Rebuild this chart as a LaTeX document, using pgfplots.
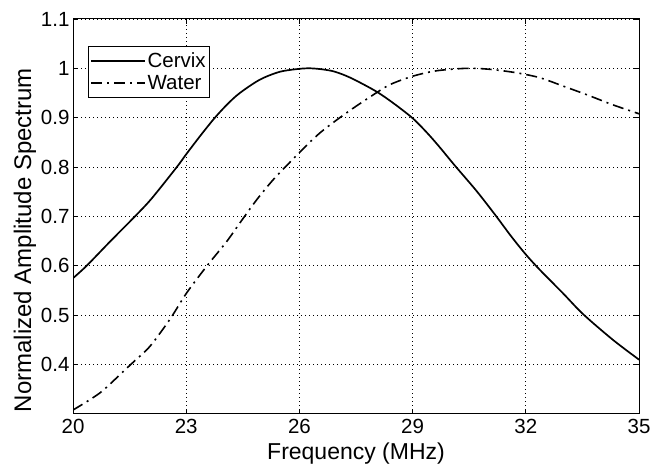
\documentclass[border=0pt]{standalone}
\usepackage{fontspec}
\setmainfont{Liberation Sans}
\usepackage{pgfplots}
\pgfplotsset{compat=1.18}
\begin{document}
\begin{tikzpicture}
\begin{axis}[
  scale only axis,
  width=566pt, height=395pt,
  xmin=20, xmax=35, ymin=0.3, ymax=1.1,
  xtick={20,23,26,29,32,35},
  ytick={0.4,0.5,0.6,0.7,0.8,0.9,1,1.1},
  yticklabels={0.4,0.5,0.6,0.7,0.8,0.9,1,1.1},
  xticklabels={20,23,26,29,32,35},
  tick align=inside,
  major tick length=5pt,
  tick style={black, line width=0.8pt},
  axis line style={line width=1pt},
  grid=major,
  grid style={black, line width=0.9pt, dash pattern=on 0.9pt off 3.1pt},
  ticklabel style={font=\fontsize{20.5}{22}\selectfont},
  xticklabel style={yshift=-2pt},
  xlabel={Frequency (MHz)},
  ylabel={Normalized Amplitude Spectrum},
  xlabel style={font=\fontsize{23}{25}\selectfont, at={(rel axis cs:0.5,-0.1165)}, anchor=base},
  ylabel style={font=\fontsize{24}{26}\selectfont, at={(rel axis cs:-0.0848,0.44)}, anchor=center},
  legend cell align=left,
  legend style={at={(0.0265,0.932)}, anchor=north west, draw=black, line width=0.8pt,
    font=\fontsize{20.5}{22}\selectfont, inner xsep=2pt, inner ysep=5pt,
    row sep=3pt, nodes={inner sep=1.5pt}},
  legend image code/.code={\draw[#1] (0pt,0pt) -- (54pt,0pt);},
]
\addplot[black, line width=1.7pt, smooth] coordinates {
(20,0.575) (20.36,0.60) (20.98,0.649) (21.64,0.70) (22.08,0.736) (22.75,0.80) (23,0.826)
(23.4,0.866) (23.76,0.90) (24.1,0.928) (24.42,0.95) (24.95,0.977) (25.48,0.993)
(26,0.999) (26.3,1.0) (26.6,0.998) (26.9,0.994) (27.2,0.986) (27.51,0.975) (28.04,0.953)
(28.48,0.930) (29,0.899) (29.4,0.868) (29.72,0.840) (30.12,0.803) (30.69,0.752) (31.18,0.704)
(31.62,0.659) (32,0.623) (32.37,0.592) (32.99,0.544) (33.52,0.502) (34.31,0.450) (35,0.41)
};
\addlegendentry{Cervix}
\addplot[black, line width=1.6pt, smooth, dash pattern=on 11pt off 5pt on 2pt off 5pt] coordinates {
(20,0.308) (20.72,0.343) (21.33,0.386) (21.64,0.408) (22.04,0.437) (22.57,0.492)
(23.01,0.545) (23.54,0.599) (24.07,0.649) (24.47,0.692) (24.87,0.734) (25.3,0.774)
(25.75,0.810) (26.15,0.841) (26.54,0.869) (26.98,0.895) (27.42,0.919) (27.95,0.946)
(28.4,0.967) (29,0.984) (29.63,0.995) (30.43,1.0) (31.05,0.998) (31.75,0.991)
(32.37,0.981) (32.99,0.964) (33.6,0.947) (34.31,0.926) (35,0.908)
};
\addlegendentry{Water}
\coordinate (bl) at (rel axis cs:-0.129,-0.134);
\coordinate (tr) at (rel axis cs:1.0194,1.048);
\end{axis}
\pgfresetboundingbox
\path (bl) rectangle (tr);
\end{tikzpicture}
\end{document}
